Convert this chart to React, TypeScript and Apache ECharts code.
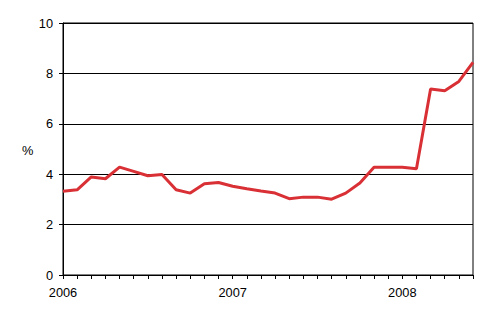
import React, { useEffect, useRef } from "react";
import * as echarts from "echarts";

const months: string[] = [
  "2006-01", "2006-02", "2006-03", "2006-04", "2006-05", "2006-06",
  "2006-07", "2006-08", "2006-09", "2006-10", "2006-11", "2006-12",
  "2007-01", "2007-02", "2007-03", "2007-04", "2007-05", "2007-06",
  "2007-07", "2007-08", "2007-09", "2007-10", "2007-11", "2007-12",
  "2008-01", "2008-02", "2008-03", "2008-04", "2008-05", "2008-06",
];

const rates: number[] = [
  3.32, 3.38, 3.89, 3.82, 4.28, 4.11, 3.94, 3.99, 3.38, 3.25, 3.62, 3.67,
  3.52, 3.42, 3.33, 3.25, 3.03, 3.09, 3.09, 3.01, 3.25, 3.65, 4.28, 4.28,
  4.28, 4.22, 7.38, 7.31, 7.68, 8.44,
];

const yTicks = { min: 0, max: 10, interval: 2 };
const unitLabel = "%";

const FONT = "'Liberation Sans', Arial, sans-serif";
const FS = 12.8;

export default function App() {
  const ref = useRef<HTMLDivElement>(null);
  useEffect(() => {
    if (!ref.current) return;
    const chart = echarts.init(ref.current, null, { renderer: "svg" });
    chart.setOption({
      animation: false,
      backgroundColor: "#ffffff",
      textStyle: { fontFamily: FONT },
      grid: {
        left: 63,
        right: 22,
        top: 23,
        bottom: 56,
        show: true,
        borderColor: "#000",
        borderWidth: 1,
        backgroundColor: "transparent",
      },
      graphic: [
        {
          type: "text",
          left: 22,
          top: 144,
          style: { text: unitLabel, fontSize: FS, fontFamily: FONT, fill: "#000" },
        },
      ],
      xAxis: {
        type: "category",
        data: months,
        boundaryGap: false,
        axisLine: { lineStyle: { color: "#000", width: 1 } },
        axisTick: { show: true, length: 4, interval: 0, lineStyle: { color: "#000" } },
        axisLabel: {
          interval: (idx: number) => idx % 12 === 0,
          formatter: (v: string) => v.slice(0, 4),
          color: "#000",
          fontSize: FS,
          fontFamily: FONT,
          margin: 11,
        },
        splitLine: { show: false },
      },
      yAxis: {
        type: "value",
        min: yTicks.min,
        max: yTicks.max,
        interval: yTicks.interval,
        axisLine: { show: true, lineStyle: { color: "#000", width: 1 } },
        axisTick: { show: true, length: 4, lineStyle: { color: "#000" } },
        axisLabel: { color: "#000", fontSize: FS, fontFamily: FONT, margin: 10 },
        splitLine: { show: true, lineStyle: { color: "#000", width: 1 } },
      },
      series: [
        {
          type: "line",
          data: rates,
          symbol: "none",
          lineStyle: { color: "#D93035", width: 3 },
          itemStyle: { color: "#D93035" },
        },
      ],
    });
    return () => chart.dispose();
  }, []);
  return (
    <div
      ref={ref}
      style={{ position: "fixed", left: 0, top: 0, width: 495, height: 331, background: "#fff" }}
    />
  );
}
